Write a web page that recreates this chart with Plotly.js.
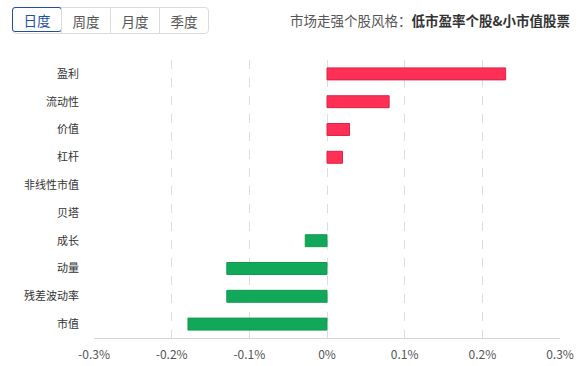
<!DOCTYPE html>
<html><head><meta charset="utf-8">
<script src="https://cdn.plot.ly/plotly-3.0.1.min.js"></script>
<style>
body{margin:0;padding:0;background:#fff;font-family:"Noto Sans CJK SC",sans-serif;}
#wrap{position:relative;width:577px;height:366px;overflow:hidden;}
#chart{position:absolute;left:0;top:0;width:577px;height:366px;}
#tabs{position:absolute;left:12px;top:7px;height:27px;display:flex;border:1px solid #dcdcdc;border-radius:4px;box-sizing:border-box;z-index:2;background:#fff;}
.tab{width:49px;height:100%;box-sizing:border-box;font-size:13.5px;color:#555;display:flex;align-items:center;justify-content:center;border-left:1px solid #dcdcdc;}
.tab:first-child{border-left:none;}
.tab.sel{color:#1f4fa0;border:1px solid #1f4fa0;border-radius:3px;margin:-1px;width:50px;}
#head{position:absolute;right:7px;top:10px;font-size:13.5px;color:#555;z-index:2;}
#head b{color:#333;}
</style></head>
<body>
<div id="wrap">
<div id="chart"></div>
<div id="tabs"><div class="tab sel">日度</div><div class="tab">周度</div><div class="tab">月度</div><div class="tab">季度</div></div>
<div id="head">市场走强个股风格：<b>低市盈率个股&amp;小市值股票</b></div>
</div>
<script>
var categories = ["盈利","流动性","价值","杠杆","非线性市值","贝塔","成长","动量","残差波动率","市值"];
var values = [0.23, 0.08, 0.029, 0.02, 0, 0, -0.028, -0.129, -0.129, -0.179];
var tickValues = [-0.3, -0.2, -0.1, 0, 0.1, 0.2, 0.3];
var tickLabels = ["-0.3%","-0.2%","-0.1%","0%","0.1%","0.2%","0.3%"];

var colors = values.map(function(v){return v >= 0 ? "#ff2f55" : "#12a85a";});
var lines = values.map(function(v){return v >= 0 ? "#d9244a" : "#0f9a50";});
var lineWidths = values.map(function(v){return v === 0 ? 0 : 1;});

Plotly.newPlot("chart", [{
  type: "bar",
  orientation: "h",
  x: values,
  y: categories,
  marker: {color: colors, line: {color: lines, width: lineWidths}},
  width: 0.43,
  hoverinfo: "none"
}], {
  width: 577, height: 366,
  margin: {l: 94, r: 17, t: 60, b: 28},
  paper_bgcolor: "#fff", plot_bgcolor: "#fff",
  font: {family: "Noto Sans CJK SC, sans-serif", size: 12, color: "#333"},
  showlegend: false,
  xaxis: {
    range: [-0.3, 0.3],
    tickvals: tickValues,
    ticktext: tickLabels,
    showgrid: true, gridcolor: "#dddddd", griddash: "dash", gridwidth: 1,
    zeroline: false,
    showline: true, linecolor: "#d6d6d6", linewidth: 1,
    ticks: "", ticklabelstandoff: 6,
    tickfont: {size: 12, color: "#555"},
    fixedrange: true
  },
  yaxis: {
    type: "category",
    autorange: "reversed",
    showgrid: false, zeroline: false, showline: false,
    ticks: "", ticklabelstandoff: 14,
    tickfont: {size: 11, color: "#333"},
    fixedrange: true
  }
}, {displayModeBar: false, staticPlot: true});
</script>
</body></html>
